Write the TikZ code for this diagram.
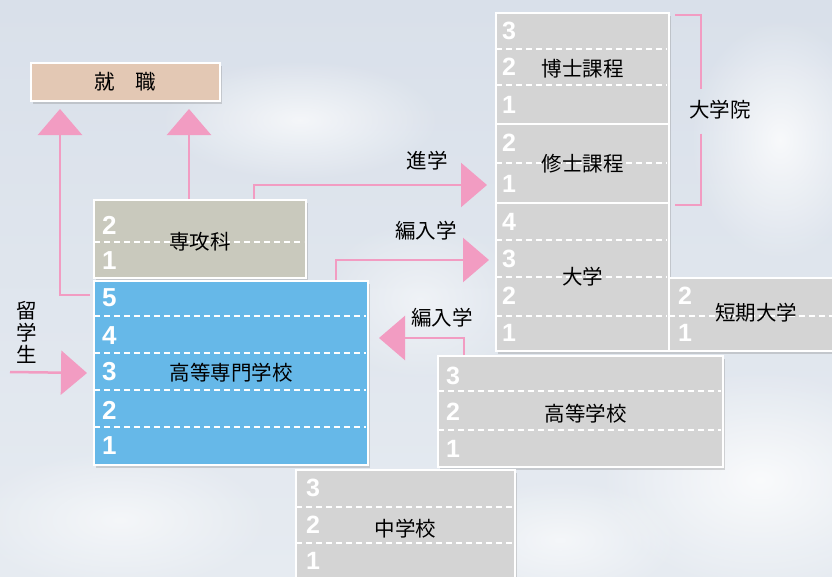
\documentclass[tikz,border=0pt]{standalone}
\usepackage{fontspec}
\setmainfont{Liberation Sans}
\newfontfamily\jp{Noto Sans CJK JP}
\usetikzlibrary{arrows.meta,shadows,fadings,calc}
\tikzfading[name=fuzzy, inner color=transparent!0, outer color=transparent!100]
\definecolor{pinkc}{HTML}{F29CC2}
\definecolor{grayc}{HTML}{D4D4D4}
\definecolor{bluec}{HTML}{66B8E8}
\definecolor{tanc}{HTML}{E3C8B4}
\definecolor{khakic}{HTML}{C9C9BD}
\definecolor{bgtop}{HTML}{D9E0EA}
\definecolor{bgbot}{HTML}{E6EBF1}
\begin{document}
\begin{tikzpicture}[x=1pt,y=-1pt,
 box/.style={draw=white, line width=2pt, anchor=north west, inner sep=0pt,
   font=\jp\fontsize{20.5}{22}\selectfont, text=black,
   drop shadow={opacity=0.3, shadow xshift=2pt, shadow yshift=-3pt}},
 dashln/.style={draw=white, line width=1.8pt, dash pattern=on 6pt off 4pt},
 num/.style={text=white, font=\bfseries\fontsize{25}{25}\selectfont, anchor=west, inner sep=0pt},
 bignum/.style={num, font=\bfseries\fontsize{26}{26}\selectfont},
 lbl/.style={font=\jp\fontsize{20.5}{22}\selectfont, text=black, inner sep=1pt},
 pk/.style={draw=pinkc, line width=2.5pt},
 pka/.style={pk, -{Triangle[width=44pt,length=26pt]}},
]
% background
\useasboundingbox (0,0) rectangle (832,576);
\shade[top color=bgtop, bottom color=bgbot] (0,0) rectangle (832,576);
\begin{scope}
\clip (0,0) rectangle (832,576);
\fill[white, opacity=0.7, path fading=fuzzy] (300,120) ellipse (140 and 60);
\fill[white, opacity=0.8, path fading=fuzzy] (780,140) ellipse (90 and 120);
\fill[white, opacity=0.8, path fading=fuzzy] (760,480) ellipse (160 and 110);
\fill[white, opacity=0.6, path fading=fuzzy] (560,540) ellipse (120 and 60);
\fill[white, opacity=0.6, path fading=fuzzy] (120,520) ellipse (150 and 70);
\fill[white, opacity=0.5, path fading=fuzzy] (420,300) ellipse (100 and 80);
\end{scope}

% boxes
\node[box, fill=tanc, minimum width=189pt, minimum height=38pt] (shushoku) at (30,62) {就　職};
\node[box, fill=khakic, minimum width=212pt, minimum height=78pt] (senkou) at (93,199) {};
\node[box, fill=bluec, minimum width=274pt, minimum height=184pt] (kosen) at (93,280) {};
\node[box, fill=grayc, minimum width=173pt, minimum height=111pt] (hakase) at (495,12) {};
\node[box, fill=grayc, minimum width=173pt, minimum height=79pt] (shushi) at (495,123) {};
\node[box, fill=grayc, minimum width=173pt, minimum height=148pt] (daigaku) at (495,202) {};
\node[box, fill=grayc, minimum width=176pt, minimum height=73pt] (tandai) at (668,277) {};
\node[box, fill=grayc, minimum width=285pt, minimum height=111pt] (koukou) at (437,355) {};
\node[box, fill=grayc, minimum width=219pt, minimum height=118pt] (chugaku) at (295,469) {};

% dashed row lines
\draw[dashln] (94,242) -- (304,242);
\foreach \y in {316,353,390,427} \draw[dashln] (94,\y) -- (366,\y);
\foreach \y in {49,85} \draw[dashln] (496,\y) -- (667,\y);
\draw[dashln] (496,163) -- (667,163);
\foreach \y in {240,277,316} \draw[dashln] (496,\y) -- (667,\y);
\draw[dashln] (669,316) -- (832,316);
\foreach \y in {391,430} \draw[dashln] (438,\y) -- (721,\y);
\foreach \y in {507,543} \draw[dashln] (296,\y) -- (513,\y);

% labels inside boxes
\node[lbl] at ($(senkou.center)+(0,3)$) {専攻科};
\node[lbl] at (kosen.center) {高等専門学校};
\node[lbl] at (hakase.center) {博士課程};
\node[lbl] at (shushi.center) {修士課程};
\node[lbl] at (daigaku.center) {大学};
\node[lbl] at (756,313) {短期大学};
\node[lbl] at ($(koukou.center)+(5,2)$) {高等学校};
\node[lbl] at (chugaku.center) {中学校};

% numbers
\node[bignum] at (102,225) {2};
\node[bignum] at (102,261) {1};
\foreach \n/\y in {5/298,4/336,3/372,2/410,1/446} \node[bignum] at (102,\y) {\n};
\foreach \n/\y in {3/31,2/67,1/105} \node[num] at (502,\y) {\n};
\foreach \n/\y in {2/143,1/184} \node[num] at (502,\y) {\n};
\foreach \n/\y in {4/222,3/259,2/296,1/333} \node[num] at (502,\y) {\n};
\foreach \n/\y in {2/296,1/333} \node[num] at (678,\y) {\n};
\foreach \n/\y in {3/376,2/412,1/449} \node[num] at (446,\y) {\n};
\foreach \n/\y in {3/488,2/525,1/561} \node[num] at (306,\y) {\n};

% outside labels
\node[lbl] (shingaku) at (427,161) {進学};
\node[lbl] (hennyu1) at (426,231) {編入学};
\node[lbl] (hennyu2) at (442,318) {編入学};
\node[lbl] (daigakuin) at (720,110) {大学院};
\node[lbl, align=center] (ryugaku) at (27,332) {留\\学\\生};
\coordinate (ryustart) at (10,372);

% connectors
\draw[pka] ($(kosen.north west)+(-3,15)$) -| ($(shushoku.south west)+(30,7)$);
\draw[pka] ($(senkou.north west)+(96,0)$) -- ($(shushoku.south west)+(159,7)$);
\draw[pka] ($(senkou.north west)+(161,0)$) |- ($(shushi.south west)+(-8,-19)$);
\draw[pka] ($(kosen.north west)+(243,0)$) |- ($(daigaku.north west)+(-6,58)$);
\draw[pka] ($(koukou.north west)+(27,0)$) |- ($(kosen.north east)+(10,58)$);
\draw[pka] (ryustart) -- ($(kosen.west)+(-6,0)$);
% bracket
\draw[pk, line width=2pt] ($(hakase.north east)+(5,3)$) -| ($(daigakuin.north)+(-19,-10)$);
\draw[pk, line width=2pt] ($(daigakuin.south)+(-19,13)$) |- ($(shushi.south east)+(5,1)$);
\end{tikzpicture}
\end{document}
